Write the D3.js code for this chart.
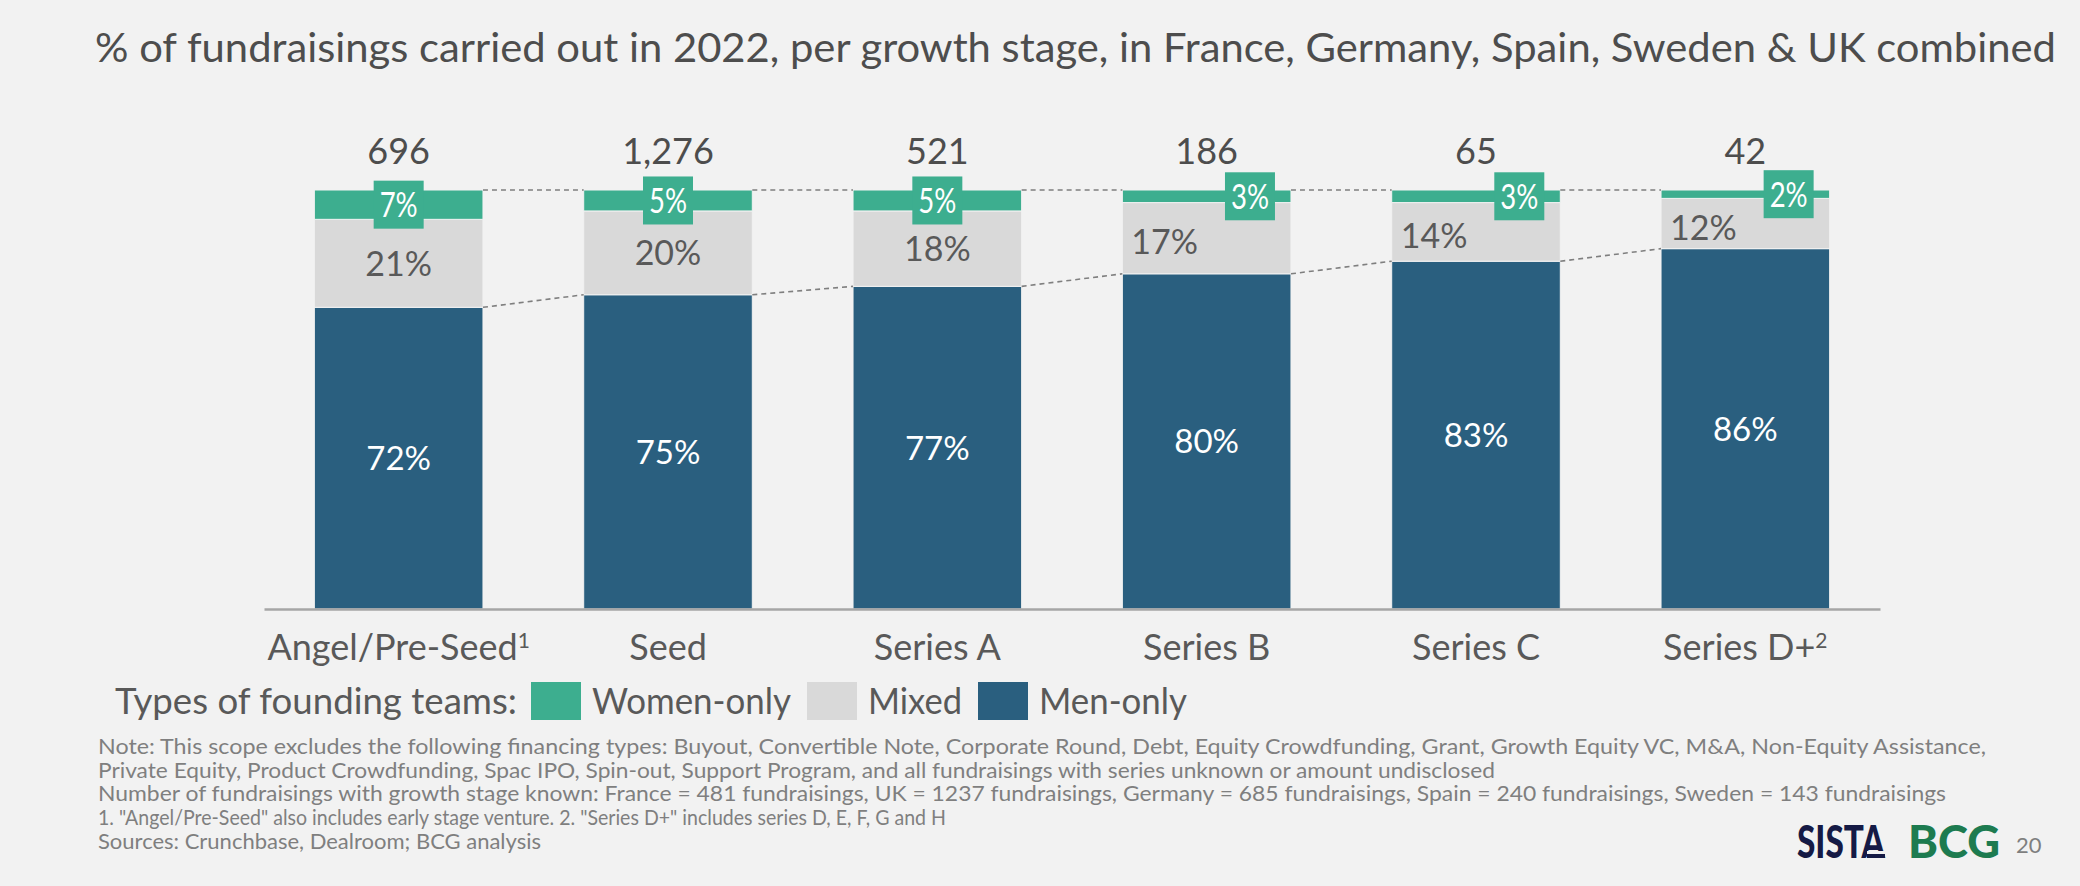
<!DOCTYPE html>
<html><head><meta charset="utf-8">
<script src="https://cdn.jsdelivr.net/npm/d3@7"></script>
<style>
html,body{margin:0;padding:0;background:#f2f2f2;}
svg{display:block;}
text{font-family:Lato,"Open Sans",sans-serif;}
</style></head><body>
<svg id="chart" width="2080" height="886"></svg>
<script>
// ---------- data ----------
const categories = ["Angel/Pre-Seed","Seed","Series A","Series B","Series C","Series D+"];
const categorySup = ["1","","","","","2"];
const totals = [696,1276,521,186,65,42];
const womenOnly = [7,5,5,3,3,2];
const mixed = [21,20,18,17,14,12];
const menOnly = [72,75,77,80,83,86];
const seriesKeys = ["men","mixed","women"];
const legendLabels = ["Women-only","Mixed","Men-only"];
const legendTitle = "Types of founding teams:";
const titleText = "% of fundraisings carried out in 2022, per growth stage, in France, Germany, Spain, Sweden & UK combined";
const notes = [
 "Note: This scope excludes the following financing types: Buyout, Convertible Note, Corporate Round, Debt, Equity Crowdfunding, Grant, Growth Equity VC, M&A, Non-Equity Assistance,",
 "Private Equity, Product Crowdfunding, Spac IPO, Spin-out, Support Program, and all fundraisings with series unknown or amount undisclosed",
 "Number of fundraisings with growth stage known: France = 481 fundraisings, UK = 1237 fundraisings, Germany = 685 fundraisings, Spain = 240 fundraisings, Sweden = 143 fundraisings",
 "1. \"Angel/Pre-Seed\" also includes early stage venture. 2. \"Series D+\" includes series D, E, F, G and H",
 "Sources: Crunchbase, Dealroom; BCG analysis"
];

// ---------- styles ----------
const colors = {women:"#3dae8f", mixed:"#d9d9d9", men:"#2a5f7f"};
const bg = "#f2f2f2";
const svg = d3.select("#chart");
svg.append("rect").attr("width",2080).attr("height",886).attr("fill",bg);

function fit(sel, w){ sel.attr("textLength", w).attr("lengthAdjust","spacingAndGlyphs"); return sel; }

// title
fit(svg.append("text").attr("x",95).attr("y",62).attr("font-size",41).attr("fill","#4d4d4d").text(titleText), 1961);

// scales
const x = d3.scaleBand().domain(categories).range([264,1880]).paddingInner(0.374).paddingOuter(0.187);
const y = d3.scaleLinear().domain([0,100]).range([609,190]);
const bw = x.bandwidth();

const rows = categories.map((c,i)=>({cat:c, men:menOnly[i], mixed:mixed[i], women:womenOnly[i], total:totals[i]}));
const stacked = d3.stack().keys(seriesKeys)(rows);

// bars
const g = svg.append("g");
stacked.forEach(layer=>{
  g.selectAll(null).data(layer).enter().append("rect")
    .attr("x",d=>x(d.data.cat)).attr("width",bw)
    .attr("y",d=>y(d[1])).attr("height",d=>y(d[0])-y(d[1]))
    .attr("fill",colors[layer.key])
    .attr("stroke",bg).attr("stroke-width",1);
});

// dashed connectors
const conn = svg.append("g").attr("stroke","#7f7f7f").attr("stroke-width",1.6).attr("stroke-dasharray","5,4");
for(let i=0;i<categories.length-1;i++){
  const a=rows[i], b=rows[i+1];
  conn.append("line").attr("x1",x(a.cat)+bw).attr("x2",x(b.cat))
    .attr("y1",y(a.men+a.mixed+a.women)).attr("y2",y(b.men+b.mixed+b.women));
  conn.append("line").attr("x1",x(a.cat)+bw).attr("x2",x(b.cat))
    .attr("y1",y(a.men)).attr("y2",y(b.men));
}

// axis
const axis = svg.append("g").attr("transform","translate(0,609)")
  .call(d3.axisBottom(x).tickSize(0).tickPadding(25));
axis.select(".domain").attr("stroke","#a6a6a6").attr("stroke-width",2.5);
axis.selectAll(".tick text").attr("font-size",36).attr("fill","#595959").attr("font-family","Lato, sans-serif")
  .each(function(d,i){
    if(categorySup[i]){
      d3.select(this).append("tspan").attr("dy","-0.55em").attr("font-size",21).text(categorySup[i]);
    }
  });

// totals
svg.append("g").selectAll("text").data(rows).enter().append("text")
  .attr("x",d=>x(d.cat)+bw/2).attr("y",164).attr("text-anchor","middle")
  .attr("font-size",36).attr("fill","#4d4d4d").text(d=>d3.format(",")(d.total));

// men labels
svg.append("g").selectAll("text").data(rows).enter().append("text")
  .attr("x",d=>x(d.cat)+bw/2).attr("y",d=>y(d.men/2)).attr("dy","0.36em").attr("text-anchor","middle")
  .attr("font-size",33).attr("fill","#ffffff").text(d=>d.men+"%");

// mixed labels
const shifted = d=>d.women<=3;
svg.append("g").selectAll("text").data(rows).enter().append("text")
  .attr("x",d=>shifted(d)? x(d.cat)+9 : x(d.cat)+bw/2)
  .attr("y",d=>y(d.men+d.mixed/2)+(shifted(d)?4:0)).attr("dy","0.36em")
  .attr("text-anchor",d=>shifted(d)?"start":"middle")
  .attr("font-size",34).attr("fill","#595959").text(d=>d.mixed+"%");

// women labels (boxes)
const boxW=50, boxH=48;
const wl = svg.append("g").selectAll("g").data(rows).enter().append("g")
  .attr("transform",d=>{
    const cx = shifted(d)? x(d.cat)+bw-16-boxW/2 : x(d.cat)+bw/2;
    const cy = y(d.men+d.mixed+d.women/2);
    return `translate(${cx},${cy})`;
  });
wl.append("rect").attr("x",-boxW/2).attr("y",-boxH/2).attr("width",boxW).attr("height",boxH).attr("fill",colors.women);
fit(wl.append("text").attr("x",-19).attr("dy","0.36em").attr("font-size",35)
  .attr("fill","#ffffff").text(d=>d.women+"%"), 38);

// legend
const lg = svg.append("g");
fit(lg.append("text").attr("x",115).attr("y",714).attr("font-size",37).attr("fill","#595959").text(legendTitle),402);
const legendWidths=[199,94,148];
let lx = 531;
seriesKeys.slice().reverse().forEach((k,i)=>{
  lg.append("rect").attr("x",lx).attr("y",682).attr("width",50).attr("height",38).attr("fill",colors[k]);
  fit(lg.append("text").attr("x",lx+61).attr("y",714).attr("font-size",37).attr("fill","#595959").text(legendLabels[i]), legendWidths[i]);
  lx += 61 + legendWidths[i] + 16;
});

// notes
const noteWidths=[1888,1397,1848,848,443];
notes.forEach((t,i)=>{
  fit(svg.append("text").attr("x",98).attr("y",754+i*23.7).attr("font-size",22).attr("fill","#7f7f7f").text(t), noteWidths[i]);
});

// logos + page number
fit(svg.append("text").attr("x",1797).attr("y",858).attr("font-size",46).attr("font-weight",900)
  .attr("font-family","Roboto, sans-serif").attr("fill","#151a45").text("SISTA"),88);
svg.append("rect").attr("x",1867).attr("y",851).attr("width",18).attr("height",4).attr("fill","#f2f2f2");
svg.append("rect").attr("x",1867).attr("y",854).attr("width",18).attr("height",4).attr("fill","#151a45");
fit(svg.append("text").attr("x",1908).attr("y",858).attr("font-size",46).attr("font-weight",900)
  .attr("font-family","Roboto, sans-serif").attr("fill","#1d7b50").text("BCG"),92);
svg.append("text").attr("x",2016).attr("y",853).attr("font-size",22).attr("fill","#7f7f7f").text("20");
</script>
</body></html>
